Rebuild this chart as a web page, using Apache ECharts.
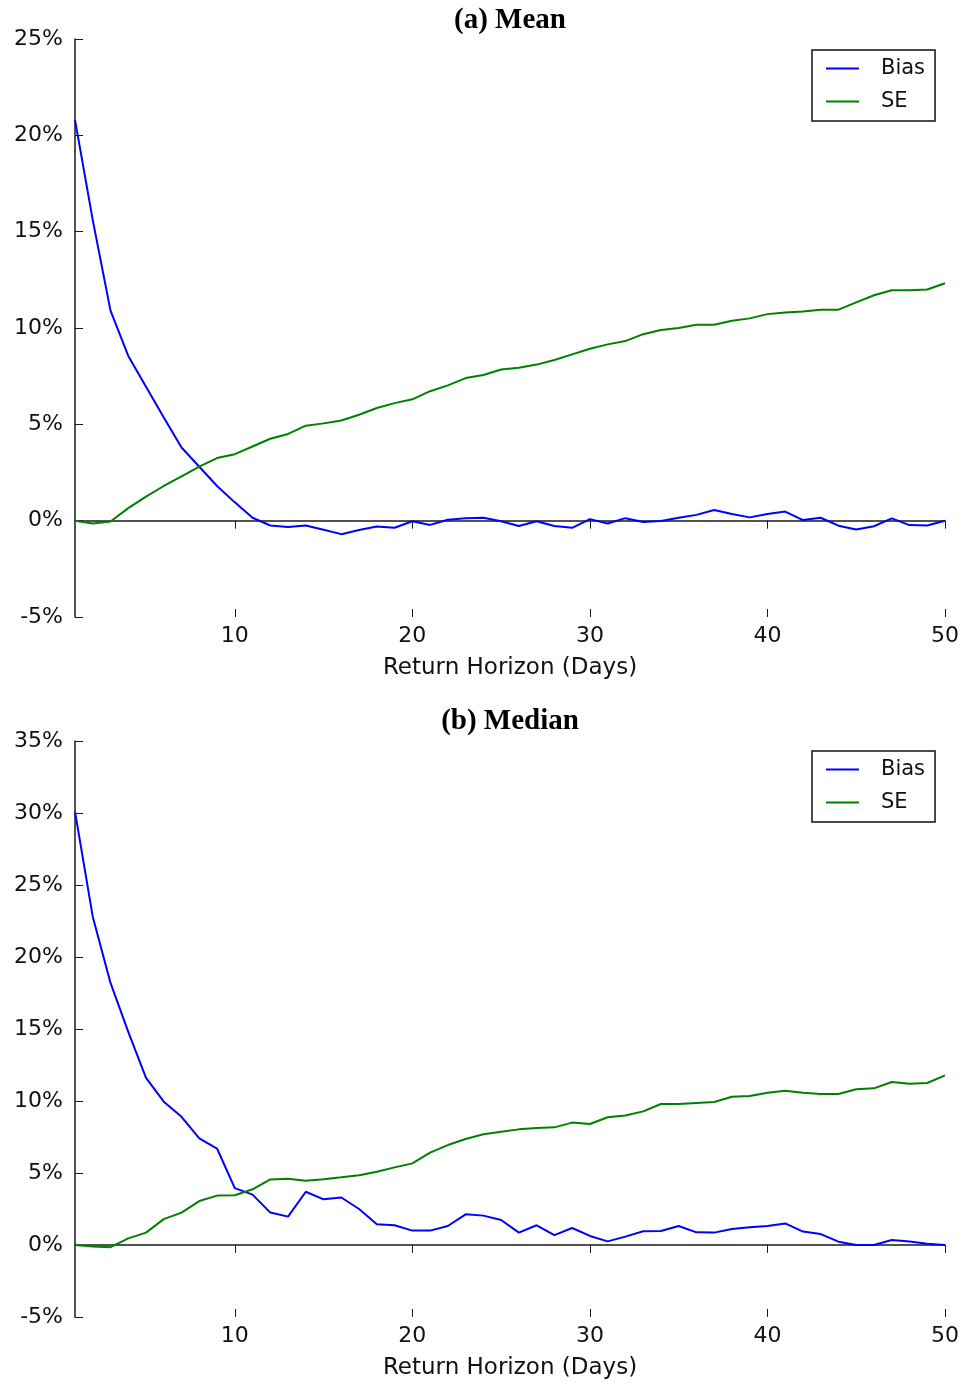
<!DOCTYPE html>
<html>
<head>
<meta charset="utf-8">
<script src="https://cdn.jsdelivr.net/npm/echarts@6/dist/echarts.min.js"></script>
<style>
  html, body { margin: 0; padding: 0; background: #fff; }
  #chart { width: 964px; height: 1385px; }
</style>
</head>
<body>
<div id="chart"></div>
<script>
// Return horizons (days)
const days = Array.from({ length: 50 }, (_, i) => i + 1);
const xTickDays = [10, 20, 30, 40, 50];

// Panel (a): mean estimator, values in %
const meanBias = [
  20.8, 15.6, 10.9, 8.55, 6.95, 5.35, 3.8, 2.8, 1.8, 0.95,
  0.15, -0.25, -0.33, -0.25, -0.47, -0.7, -0.48, -0.3, -0.37, -0.03,
  -0.22, 0.05, 0.12, 0.15, -0.03, -0.28, -0.03, -0.28, -0.37, 0.08,
  -0.15, 0.13, -0.07, -0.02, 0.15, 0.3, 0.55, 0.35, 0.17, 0.35,
  0.47, 0.03, 0.15, -0.26, -0.46, -0.29, 0.12, -0.23, -0.25, 0.0
];
const meanSE = [
  0.0, -0.15, -0.04, 0.65, 1.25, 1.8, 2.3, 2.8, 3.25, 3.45,
  3.85, 4.25, 4.5, 4.93, 5.05, 5.2, 5.5, 5.85, 6.1, 6.3,
  6.72, 7.02, 7.4, 7.56, 7.85, 7.94, 8.1, 8.34, 8.63, 8.92,
  9.15, 9.32, 9.68, 9.9, 10.0, 10.17, 10.17, 10.38, 10.5, 10.72,
  10.8, 10.86, 10.95, 10.95, 11.33, 11.7, 11.96, 11.96, 12.0, 12.32
];

// Panel (b): median estimator, values in %
const medianBias = [
  30.1, 22.8, 18.2, 14.8, 11.6, 9.95, 8.9, 7.4, 6.7, 3.95,
  3.5, 2.25, 1.97, 3.7, 3.17, 3.3, 2.5, 1.44, 1.37, 1.0,
  1.0, 1.32, 2.13, 2.04, 1.74, 0.86, 1.37, 0.69, 1.18, 0.63,
  0.25, 0.58, 0.95, 0.97, 1.32, 0.88, 0.86, 1.11, 1.23, 1.32,
  1.5, 0.93, 0.76, 0.23, 0.0, 0.0, 0.35, 0.25, 0.09, 0.0
];
const medianSE = [
  0.0, -0.1, -0.15, 0.46, 0.86, 1.8, 2.25, 3.05, 3.43, 3.45,
  3.87, 4.55, 4.6, 4.47, 4.56, 4.7, 4.85, 5.09, 5.39, 5.67,
  6.41, 6.94, 7.36, 7.69, 7.87, 8.03, 8.13, 8.17, 8.5, 8.4,
  8.87, 9.0, 9.28, 9.79, 9.79, 9.86, 9.93, 10.3, 10.35, 10.58,
  10.72, 10.58, 10.49, 10.49, 10.81, 10.88, 11.32, 11.2, 11.25, 11.78
];

const panelTitles = ['(a) Mean', '(b) Median'];
const seriesNames = ['Bias', 'SE'];
const yRanges = [[-5, 25], [-5, 35]];
const xAxisName = 'Return Horizon (Days)';

const SANS = 'DejaVu Sans';
const AXIS_COLOR = '#1a1a1a';
const BIAS_COLOR = '#0000ff';
const SE_COLOR = '#008000';

const grids = [
  { left: 75, right: 19, top: 39, height: 578 },
  { left: 75, right: 19, top: 741, height: 576 }
];

const isTick = (idx, val) => xTickDays.indexOf(Number(val)) >= 0;

function zeroXAxis(gridIndex, yIndex) {
  // axis line drawn along y = 0, ticks hanging below it
  return {
    type: 'category', gridIndex: gridIndex, data: days, boundaryGap: false,
    position: 'bottom',
    axisLine: { show: true, onZero: true, onZeroAxisIndex: yIndex,
                lineStyle: { color: AXIS_COLOR, width: 1.5 } },
    axisTick: { show: true, inside: false, length: 8, interval: isTick,
                lineStyle: { color: AXIS_COLOR, width: 1 } },
    axisLabel: { show: false },
    splitLine: { show: false }
  };
}

function bottomXAxis(gridIndex) {
  // labels and name along the bottom edge of the plot
  return {
    type: 'category', gridIndex: gridIndex, data: days, boundaryGap: false,
    position: 'bottom',
    axisLine: { show: false, onZero: false },
    axisTick: { show: true, inside: true, length: 8, interval: isTick,
                lineStyle: { color: AXIS_COLOR, width: 1 } },
    axisLabel: { show: true, interval: isTick, margin: 8,
                 fontFamily: SANS, fontSize: 22, color: '#111' },
    name: xAxisName, nameLocation: 'middle', nameGap: 40,
    nameTextStyle: { fontFamily: SANS, fontSize: 23, color: '#111' },
    splitLine: { show: false }
  };
}

function yAxis(gridIndex, range) {
  return {
    type: 'value', gridIndex: gridIndex, min: range[0], max: range[1], interval: 5,
    axisLine: { show: true, onZero: false, lineStyle: { color: AXIS_COLOR, width: 1.5 } },
    axisTick: { show: true, inside: true, length: 8, lineStyle: { color: AXIS_COLOR, width: 1 } },
    axisLabel: { formatter: '{value}%', margin: 12, fontFamily: SANS, fontSize: 22, color: '#111' },
    splitLine: { show: false }
  };
}

function lineSeries(name, data, color, xi, yi) {
  return {
    name: name, type: 'line', data: data, xAxisIndex: xi, yAxisIndex: yi,
    showSymbol: false, symbol: 'none', animation: false,
    lineStyle: { color: color, width: 2 }, itemStyle: { color: color }
  };
}

function legendBox(top) {
  return {
    orient: 'vertical', left: 812, top: top, data: seriesNames,
    icon: 'rect', itemWidth: 33, itemHeight: 2, itemGap: 12,
    padding: [8, 10, 9, 14],
    borderColor: '#111', borderWidth: 1.5, borderRadius: 0,
    backgroundColor: '#fff',
    selectedMode: false,
    textStyle: { fontFamily: SANS, fontSize: 21, color: '#111', padding: [0, 0, 0, 17] }
  };
}

const titleStyle = { fontFamily: 'Liberation Serif', fontWeight: 'bold', fontSize: 29, color: '#000' };

const option = {
  backgroundColor: '#fff',
  animation: false,
  title: [
    { text: panelTitles[0], left: 510, top: 6, textAlign: 'center', padding: 0, textStyle: titleStyle },
    { text: panelTitles[1], left: 510, top: 707, textAlign: 'center', padding: 0, textStyle: titleStyle }
  ],
  legend: [legendBox(50), legendBox(751)],
  grid: grids,
  xAxis: [zeroXAxis(0, 0), bottomXAxis(0), zeroXAxis(1, 1), bottomXAxis(1)],
  yAxis: [yAxis(0, yRanges[0]), yAxis(1, yRanges[1])],
  series: [
    lineSeries(seriesNames[0], meanBias, BIAS_COLOR, 0, 0),
    lineSeries(seriesNames[1], meanSE, SE_COLOR, 0, 0),
    lineSeries(seriesNames[0], medianBias, BIAS_COLOR, 2, 1),
    lineSeries(seriesNames[1], medianSE, SE_COLOR, 2, 1)
  ]
};

const chart = echarts.init(document.getElementById('chart'), null, { renderer: 'canvas' });
chart.setOption(option);
</script>
</body>
</html>
